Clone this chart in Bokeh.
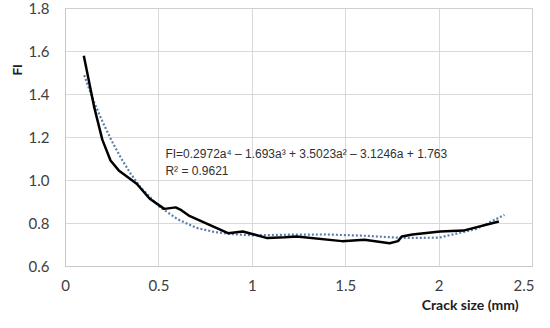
from bokeh.plotting import figure
from bokeh.models import FixedTicker, Label, Title, Range1d
from bokeh.embed import file_html
from bokeh.resources import INLINE

# Measured curve (crack size in mm, FI)
crack_mm = [0.098, 0.154, 0.197, 0.241, 0.285, 0.381, 0.451, 0.529, 0.59, 0.62, 0.66, 0.87,
            0.949, 1.01, 1.08, 1.175, 1.237, 1.48, 1.60, 1.735, 1.78, 1.80, 1.857,
            2.006, 2.13, 2.32]
fi_vals = [1.58, 1.34, 1.19, 1.093, 1.047, 0.985, 0.915, 0.868, 0.875, 0.862, 0.837, 0.755,
           0.763, 0.749, 0.732, 0.736, 0.74, 0.718, 0.724, 0.708, 0.718, 0.74, 0.749,
           0.763, 0.767, 0.809]

# Polynomial trendline (dotted)
trend_mm = [0.1, 0.15, 0.2, 0.25, 0.3, 0.35, 0.4, 0.5, 0.6, 0.7, 0.8, 0.9, 1.0, 1.2, 1.4,
            1.6, 1.8, 2.0, 2.2, 2.35]
trend_fi = [1.49, 1.37, 1.27, 1.18, 1.10, 1.03, 0.97, 0.88, 0.82, 0.78, 0.76, 0.75, 0.745,
            0.748, 0.749, 0.743, 0.733, 0.734, 0.775, 0.84]

x_ticks = [0, 0.5, 1, 1.5, 2, 2.5]
x_tick_labels = ["0", "0.5", "1", "1.5", "2", "2.5"]
y_ticks = [0.6, 0.8, 1.0, 1.2, 1.4, 1.6, 1.8]
y_tick_labels = ["0.6", "0.8", "1.0", "1.2", "1.4", "1.6", "1.8"]

equation = "FI=0.2972a\u2074 \u2013 1.693a\u00b3 + 3.5023a\u00b2 \u2013 3.1246a + 1.763"
r_squared = "R\u00b2 = 0.9621"
x_title = "Crack size (mm)"

p = figure(width=534, height=312, output_backend="svg", toolbar_location=None,
           x_range=Range1d(0, 2.5), y_range=Range1d(0.6, 1.8),
           min_border_left=65, min_border_right=2, min_border_top=8, min_border_bottom=0)
p.outline_line_color = "#d0d0d0"
p.background_fill_color = "white"
p.border_fill_color = "white"

p.xaxis.ticker = FixedTicker(ticks=x_ticks)
p.yaxis.ticker = FixedTicker(ticks=y_ticks)
p.xaxis.major_label_overrides = {t: l for t, l in zip(x_ticks, x_tick_labels)}
p.yaxis.major_label_overrides = {t: l for t, l in zip(y_ticks, y_tick_labels)}
for ax in (p.xaxis, p.yaxis):
    ax.axis_line_color = "#c8c8c8"
    ax.major_tick_line_color = None
    ax.minor_tick_line_color = None
    ax.major_label_text_font = "Lato"
    ax.major_label_text_font_size = "15px"
    ax.major_label_text_color = "#404040"
p.xaxis.major_label_standoff = 7
p.yaxis.major_label_standoff = 10
p.xgrid.grid_line_color = "#d9d9d9"
p.ygrid.grid_line_color = "#d9d9d9"

p.line(trend_mm, trend_fi, line_color="#5a7fa8", line_width=2.2, line_dash="2 2")
p.line(crack_mm, fi_vals, line_color="black", line_width=2.5)

p.add_layout(Label(x=0.535, y=1.121, text=equation, text_font="Arial",
                   text_font_size="12px", text_color="#303030", text_baseline="middle"))
p.add_layout(Label(x=0.535, y=1.046, text=r_squared, text_font="Arial",
                   text_font_size="12px", text_color="#303030", text_baseline="middle"))

p.add_layout(Title(text="FI", align="right", offset=56, standoff=2, text_font="Arial",
                   text_font_size="12px", text_font_style="bold", text_color="#202020"),
             "left")

xa = p.xaxis[0]
try:
    xa.axis_label_align = "right"
    xa.axis_label = x_title + "\u2002\u2002"
    xa.axis_label_standoff = 11
    xa.axis_label_text_font = "Lato"
    xa.axis_label_text_font_size = "14px"
    xa.axis_label_text_font_style = "bold"
    xa.axis_label_text_color = "#202020"
except Exception:
    p.add_layout(Title(text=x_title, align="right", text_font="Lato",
                       text_font_size="14px", text_font_style="bold", text_color="#202020",
                       offset=14, standoff=0), "below")

open("out.html", "w").write(file_html(p, INLINE))
